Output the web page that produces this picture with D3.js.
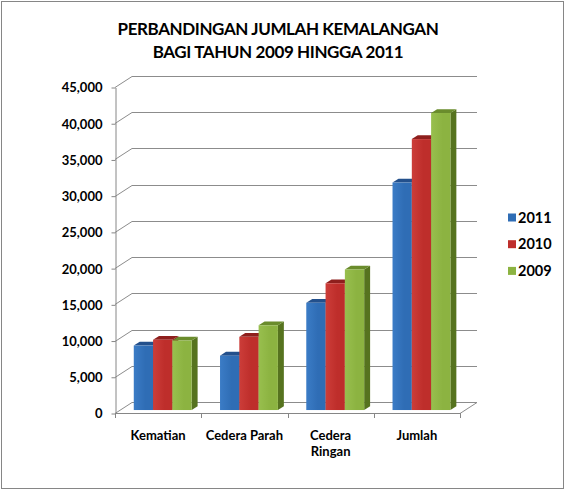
<!DOCTYPE html>
<html>

<head>
    <meta charset="utf-8">
    <title>Perbandingan Jumlah Kemalangan</title>
    <script src="https://d3js.org/d3.v7.min.js"></script>
    <style>
        body {
            margin: 0;
            background: #fff;
            font-family: Lato, "Open Sans", sans-serif;
        }

        .axis text {
            font-family: Lato, sans-serif;
            font-weight: bold;
            font-size: 13px;
            fill: #000;
        }

        .axis path,
        .axis line {
            fill: none;
            stroke: #868686;
        }
    </style>
</head>

<body>
    <svg width="568" height="491"></svg>

    <script>
        // chart data
        const categories = ["Kematian", "Cedera Parah", "Cedera Ringan", "Jumlah"];
        const categoryLines = [["Kematian"], ["Cedera Parah"], ["Cedera", "Ringan"], ["Jumlah"]];
        const seriesNames = ["2011", "2010", "2009"];
        const values2011 = [8900, 7500, 14800, 31400];
        const values2010 = [9700, 10100, 17500, 37400];
        const values2009 = [9600, 11700, 19400, 41000];
        const yTickValues = [0, 5000, 10000, 15000, 20000, 25000, 30000, 35000, 40000, 45000];
        const titleLines = ["PERBANDINGAN JUMLAH KEMALANGAN", "BAGI TAHUN 2009 HINGGA 2011"];

        const seriesValues = [values2011, values2010, values2009];
        const colors = [
            { front: "#2f6db5", light: "#3b7cc6", side: "#1d4a80", top: "#23508c" },
            { front: "#be2e2b", light: "#cc3d39", side: "#8a1d1b", top: "#8e1f1d" },
            { front: "#8cb341", light: "#98bf4e", side: "#56731f", top: "#6a8c2c" }
        ];

        const svg = d3.select("svg");

        // outer border
        svg.append("rect")
            .attr("x", 1.5).attr("y", 1.5)
            .attr("width", 562).attr("height", 487)
            .attr("fill", "#fff")
            .attr("stroke", "#868686");

        // front plane of the plot
        const plotLeft = 115, plotRight = 460, plotBottom = 413, plotTop = 87;
        // depth offset of the back wall
        const DX = 17, DY = -11;
        // bar front depth and bar thickness (fractions of wall depth)
        const barFront = 0.27, barDepth = 0.35;

        const x = d3.scaleBand().domain(categories).range([plotLeft, plotRight]);
        const xs = d3.scaleBand().domain(seriesNames).range([0, x.bandwidth()]).paddingOuter(0.735);
        const y = d3.scaleLinear().domain([0, 45000]).range([plotBottom, plotTop]);

        const defs = svg.append("defs");
        colors.forEach((c, i) => {
            const g = defs.append("linearGradient").attr("id", "grad" + i)
                .attr("x1", "0").attr("x2", "1").attr("y1", "0").attr("y2", "0");
            g.append("stop").attr("offset", "0").attr("stop-color", c.light);
            g.append("stop").attr("offset", "0.6").attr("stop-color", c.front);
            g.append("stop").attr("offset", "1").attr("stop-color", c.front);
        });

        // back wall gridlines and left wall diagonals
        const grid = svg.append("g").attr("stroke", "#8c8c8c").attr("fill", "none");
        yTickValues.forEach(v => {
            const yy = Math.round(y(v)) + 0.5;
            grid.append("line")
                .attr("x1", plotLeft + DX).attr("x2", plotRight + DX)
                .attr("y1", yy + DY).attr("y2", yy + DY);
            grid.append("line")
                .attr("x1", plotLeft).attr("y1", yy)
                .attr("x2", plotLeft + DX).attr("y2", yy + DY);
        });
        // floor right edge
        grid.append("line")
            .attr("x1", plotRight).attr("y1", Math.round(y(0)) + 0.5)
            .attr("x2", plotRight + DX).attr("y2", Math.round(y(0)) + 0.5 + DY);

        // y axis
        svg.append("g")
            .attr("class", "axis")
            .attr("transform", "translate(" + (plotLeft + 0.5) + ",0.5)")
            .call(d3.axisLeft(y).tickValues(yTickValues).tickFormat(d3.format(",")).tickSizeInner(4).tickSizeOuter(0).tickPadding(9))
            .selectAll("text").attr("dy", "0.34em");

        // x axis: front floor edge with ticks at category boundaries
        const xAxis = svg.append("g").attr("stroke", "#868686");
        xAxis.append("line")
            .attr("x1", plotLeft).attr("x2", plotRight)
            .attr("y1", Math.round(y(0)) + 0.5).attr("y2", Math.round(y(0)) + 0.5);
        categories.concat([null]).forEach(c => {
            const xx = Math.round(c ? x(c) : plotRight) + 0.5;
            xAxis.append("line")
                .attr("x1", xx).attr("x2", xx)
                .attr("y1", y(0)).attr("y2", y(0) + 5);
        });

        // category labels
        const labels = svg.append("g")
            .attr("font-family", "Lato, sans-serif")
            .attr("font-weight", "bold")
            .attr("font-size", "13px")
            .attr("text-anchor", "middle");
        categoryLines.forEach((lines, i) => {
            const t = labels.append("text")
                .attr("x", x(categories[i]) + x.bandwidth() / 2)
                .attr("y", 440);
            lines.forEach((line, k) => {
                t.append("tspan")
                    .attr("x", x(categories[i]) + x.bandwidth() / 2)
                    .attr("dy", k === 0 ? 0 : 16)
                    .text(line);
            });
        });

        // 3D bars
        const bdx = DX * barDepth, bdy = DY * barDepth;
        const bars = svg.append("g");
        categories.forEach((cat, i) => {
            seriesNames.forEach((s, j) => {
                const v = seriesValues[j][i];
                const x0 = x(cat) + xs(s) + DX * barFront;
                const w = xs.bandwidth();
                const yt = y(v) + DY * barFront;
                const yb = y(0) + DY * barFront;
                const c = colors[j];
                const bar = bars.append("g");
                bar.append("polygon")
                    .attr("points", [[x0 + w, yt], [x0 + w + bdx, yt + bdy], [x0 + w + bdx, yb + bdy], [x0 + w, yb]].join(" "))
                    .attr("fill", c.side);
                bar.append("polygon")
                    .attr("points", [[x0, yt], [x0 + w, yt], [x0 + w + bdx, yt + bdy], [x0 + bdx, yt + bdy]].join(" "))
                    .attr("fill", c.top);
                bar.append("rect")
                    .attr("x", x0).attr("y", yt)
                    .attr("width", w).attr("height", yb - yt)
                    .attr("fill", "url(#grad" + j + ")");
            });
        });

        // title
        svg.append("text")
            .attr("x", 278)
            .attr("y", 35)
            .attr("text-anchor", "middle")
            .attr("font-family", "Lato, sans-serif")
            .attr("font-weight", "bold")
            .attr("font-size", "17px")
            .attr("letter-spacing", "-0.4px")
            .selectAll("tspan")
            .data(titleLines)
            .join("tspan")
            .attr("x", 278)
            .attr("dy", (d, i) => i === 0 ? 0 : 22.5)
            .text(d => d);

        // legend
        const legend = svg.append("g")
            .attr("font-family", "Lato, sans-serif")
            .attr("font-weight", "bold")
            .attr("font-size", "14.5px");
        seriesNames.forEach((s, j) => {
            const cy = 217.5 + j * 26.7;
            legend.append("rect")
                .attr("x", 508).attr("y", cy - 4)
                .attr("width", 8).attr("height", 8)
                .attr("fill", colors[j].front);
            legend.append("text")
                .attr("x", 518).attr("y", cy)
                .attr("dy", "0.36em")
                .text(s);
        });
    </script>
</body>

</html>
